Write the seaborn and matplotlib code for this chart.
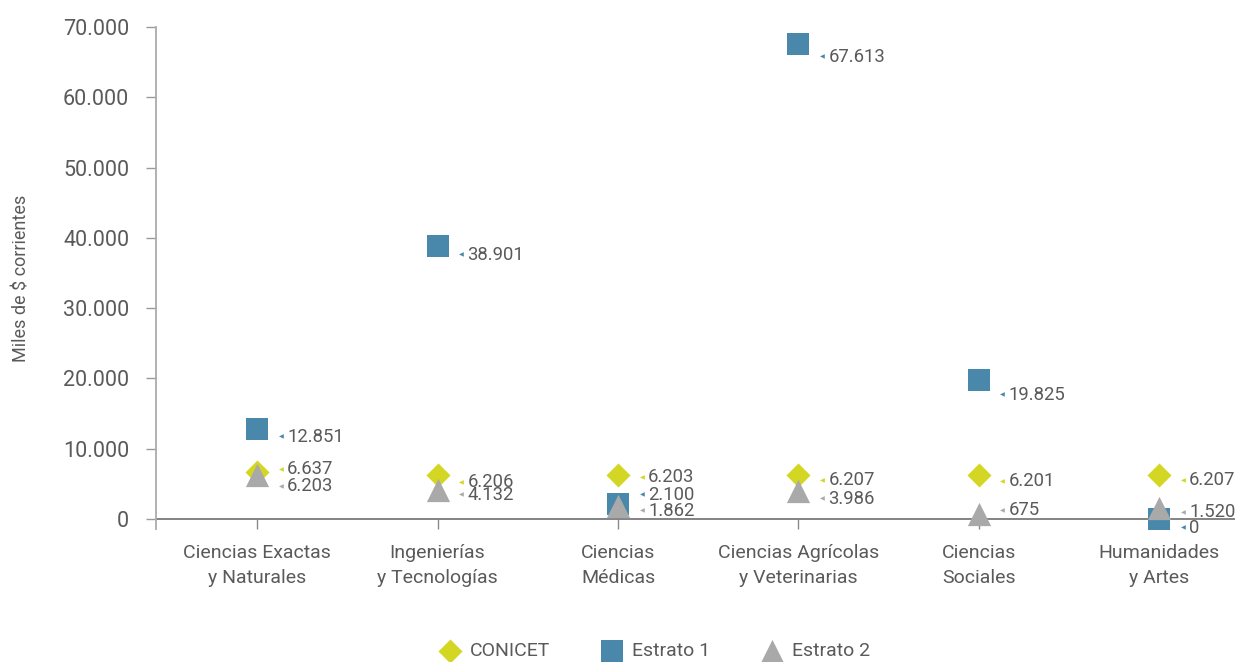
import matplotlib
matplotlib.use("Agg")
import matplotlib.pyplot as plt
import seaborn as sns
import pandas as pd
from matplotlib.ticker import FuncFormatter, FixedLocator

# ---- data ----
categories = ["Ciencias Exactas\ny Naturales", "Ingenierías\ny Tecnologías",
              "Ciencias\nMédicas", "Ciencias Agrícolas\ny Veterinarias",
              "Ciencias\nSociales", "Humanidades\ny Artes"]
conicet = [6637, 6206, 6203, 6207, 6201, 6207]
estrato1 = [12851, 38901, 2100, 67613, 19825, 0]
estrato2 = [6203, 4132, 1862, 3986, 675, 1520]
series_names = ["CONICET", "Estrato 1", "Estrato 2"]
y_ticks = [0, 10000, 20000, 30000, 40000, 50000, 60000, 70000]

# ---- styling ----
sns.set_theme(style="white")
plt.rcParams["font.family"] = ["Roboto", "DejaVu Sans"]
TXT = "#5a5a5a"
colors = {"CONICET": "#d3d623", "Estrato 1": "#4a88ab", "Estrato 2": "#a9a9a9"}
markers = {"CONICET": "D", "Estrato 1": "s", "Estrato 2": "^"}
sizes = {"CONICET": 150, "Estrato 1": 250, "Estrato 2": 280}
# vertical label nudges in pixels (positive = down)
nudges = {"CONICET": [-3, 7, 2, 5, 6, 5],
          "Estrato 1": [8, 9, -9, 13, 15, 9],
          "Estrato 2": [11, 5, 5, 8, -4, 4]}

values = {"CONICET": conicet, "Estrato 1": estrato1, "Estrato 2": estrato2}
frames = []
for name in series_names:
    frames.append(pd.DataFrame({"cat": range(len(categories)),
                                "valor": values[name], "serie": name}))
df = pd.concat(frames, ignore_index=True)

W, H = 1235, 662
fig = plt.figure(figsize=(W / 100, H / 100), dpi=100)
ax = fig.add_axes([156 / W, 1 - 529 / H, (W - 156) / W, (529 - 27) / H])

for name in series_names:
    sub = df[df["serie"] == name]
    sns.scatterplot(data=sub, x="cat", y="valor", ax=ax, marker=markers[name],
                    s=sizes[name], color=colors[name], linewidth=0,
                    label=name, clip_on=False, zorder=3)

ax.set_xlim(-0.561, 5.42)
ax.set_ylim(-1420, 70000)

# x axis line at 0
ax.axhline(0, color="#7a7a7a", lw=1.3, zorder=1)

for s in ["top", "right", "bottom"]:
    ax.spines[s].set_visible(False)
ax.spines["left"].set_color("#ababab")
ax.spines["left"].set_linewidth(1.3)

ax.yaxis.set_major_locator(FixedLocator(y_ticks))
ax.yaxis.set_major_formatter(FuncFormatter(lambda v, p: f"{int(v):,}".replace(",", ".")))
ax.set_xticks(range(len(categories)))
ax.set_xticklabels(categories, linespacing=1.5)
ax.tick_params(axis="y", direction="out", length=7.2, width=1, color="#9a9a9a",
               labelsize=15.5, labelcolor=TXT, pad=12, left=True)
ax.tick_params(axis="x", direction="in", length=7.2, width=1, color="#8a8a8a",
               labelsize=14, labelcolor=TXT, pad=11, bottom=True)
ax.set_xlabel("")
ax.set_ylabel("Miles de $ corrientes", fontsize=13, color=TXT)
ax.yaxis.set_label_coords(-(156 - 31) / (W - 156), 0.5)
ax.grid(False)

# data labels
for name in series_names:
    for i, v in enumerate(values[name]):
        dy = -nudges[name][i]
        ax.annotate("◀", xy=(i, v), xytext=(24, dy), textcoords="offset pixels",
                    ha="center", va="center", fontsize=4.5, color=colors[name],
                    family=["DejaVu Sans"], zorder=4, annotation_clip=False)
        ax.annotate(f"{v:,}".replace(",", "."), xy=(i, v), xytext=(30, dy),
                    textcoords="offset pixels", ha="left", va="center",
                    fontsize=13.3, color=TXT, zorder=4, annotation_clip=False)

handles, labels = ax.get_legend_handles_labels()
if ax.get_legend():
    ax.get_legend().remove()
fig.legend(handles, labels, loc="center", bbox_to_anchor=(0.529, 1 - 651 / H),
           ncol=3, frameon=False, fontsize=14, labelcolor=TXT,
           handlelength=1.4, handletextpad=0.3, columnspacing=2.5)

fig.savefig("out.png", dpi=100)
